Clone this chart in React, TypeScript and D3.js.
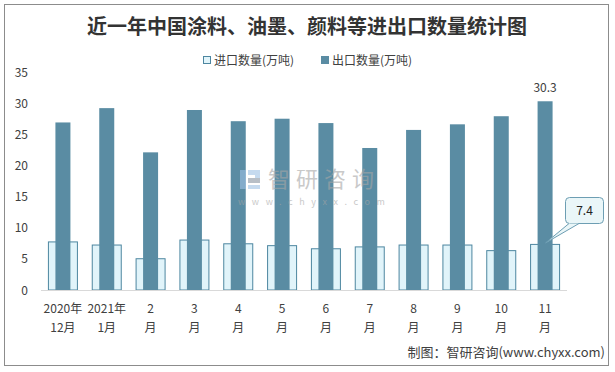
import React from 'react';
import * as d3 from 'd3';

const months = ['2020年12月', '2021年1月', '2月', '3月', '4月', '5月', '6月', '7月', '8月', '9月', '10月', '11月'];
const labelTop = ['2020年', '2021年', '2', '3', '4', '5', '6', '7', '8', '9', '10', '11'];
const labelBottom = ['12月', '1月', '月', '月', '月', '月', '月', '月', '月', '月', '月', '月'];
const importValues = [7.8, 7.3, 5.1, 8.1, 7.5, 7.2, 6.7, 7.0, 7.3, 7.3, 6.4, 7.4];
const exportValues = [26.9, 29.2, 22.1, 28.9, 27.1, 27.5, 26.8, 22.8, 25.7, 26.6, 27.9, 30.3];
const yTicks = [0, 5, 10, 15, 20, 25, 30, 35];

const W = 615;
const H = 372;
const FONT = '"Noto Sans CJK SC", "Noto Sans", sans-serif';

export default function App() {
  const x = d3.scaleBand<string>().domain(months).range([41, 567]).paddingInner(0).paddingOuter(0);
  const y = d3.scaleLinear().domain([0, 35]).range([290, 72]);
  const bw = x.bandwidth();
  const impW = 30;
  const expW = 15;

  const lastIdx = months.length - 1;
  const lastCx = (x(months[lastIdx]) || 0) + bw / 2;
  const lastImpTop = y(importValues[lastIdx]);

  return (
    <div style={{ position: 'fixed', left: 0, top: 0 }}>
      <svg width={W} height={H} style={{ display: 'block', background: '#fff' }}>
        <rect x={4.5} y={4.5} width={604} height={361} fill="#fff" stroke="#8c8c8c" strokeWidth={1} />

        <text x={307} y={34} textAnchor="middle" fontFamily={FONT} fontSize={20} fontWeight={700} fill="#333">
          近一年中国涂料、油墨、颜料等进出口数量统计图
        </text>

        {/* legend */}
        <g fontFamily={FONT} fontSize={12} fill="#404040">
          <rect x={203.5} y={56.5} width={7} height={7} fill="#e1f4fa" stroke="#4d86a0" />
          <text x={214} y={64.5}>进口数量(万吨)</text>
          <rect x={321} y={56} width={8} height={8} fill="#5a8ca3" />
          <text x={332} y={64.5}>出口数量(万吨)</text>
        </g>

        {/* y tick labels */}
        <g fontFamily={FONT} fontSize={12} fill="#404040" textAnchor="end">
          {yTicks.map(t => (
            <text key={t} x={28} y={y(t) + 4.5}>{t}</text>
          ))}
        </g>

        {/* bars */}
        {months.map((m, i) => {
          const cx = (x(m) || 0) + bw / 2;
          return (
            <g key={m}>
              <rect
                x={cx - impW / 2 + 0.5}
                y={y(importValues[i]) + 0.5}
                width={impW - 1}
                height={y(0) - y(importValues[i]) - 0.5}
                fill="#e1f4fa"
                stroke="#4d86a0"
                strokeWidth={1}
              />
              <rect
                x={cx - expW / 2}
                y={y(exportValues[i])}
                width={expW}
                height={y(0) - y(exportValues[i])}
                fill="#5a8ca3"
              />
            </g>
          );
        })}

        {/* watermark, drawn over the bars */}
        <g opacity={0.6}>
          <rect x={240} y={170} width={6} height={19} fill="#9fc2e6" />
          <rect x={248} y={170} width={12} height={5} fill="#9fc2e6" />
          <rect x={255} y={170} width={5} height={10} fill="#9fc2e6" />
          <rect x={248} y={178} width={12} height={5} fill="#8a96a3" />
          <rect x={248} y={185} width={12} height={4} fill="#9fc2e6" />
          <text x={268} y={187} fontFamily={FONT} fontSize={22} fill="#a6a6a6" letterSpacing={6}>智研咨询</text>
          <text x={238} y={205} fontFamily={FONT} fontSize={9} fill="#a6a6a6" letterSpacing={6.6}>www.chyxx.com</text>
        </g>

        {/* x axis */}
        <line x1={41} x2={567} y1={290.5} y2={290.5} stroke="#d9d9d9" strokeWidth={1} />
        <g fontFamily={FONT} fontSize={12} fill="#404040" textAnchor="middle">
          {months.map((m, i) => {
            const cx = (x(m) || 0) + bw / 2;
            return (
              <g key={m}>
                <text x={cx} y={313}>{labelTop[i]}</text>
                <text x={cx} y={332}>{labelBottom[i]}</text>
              </g>
            );
          })}
        </g>

        {/* data labels */}
        <text x={lastCx} y={y(exportValues[lastIdx]) - 9} textAnchor="middle" fontFamily={FONT} fontSize={12} fill="#404040">
          {exportValues[lastIdx]}
        </text>
        <rect x={565.5} y={197.5} width={38} height={26} rx={4} fill="#eaf6f8" stroke="#6d9eb3" />
        <path d={`M568.5,223.5 L579,223.5 L${lastCx + 0.5},${lastImpTop - 1} Z`} fill="#eaf6f8" stroke="none" />
        <line x1={579} y1={223.5} x2={lastCx + 0.5} y2={lastImpTop - 1} stroke="#6d9eb3" />
        <line x1={569} y1={223.5} x2={lastCx + 0.5} y2={lastImpTop - 1} stroke="#6d9eb3" />
        <text x={584.5} y={214.5} textAnchor="middle" fontFamily={FONT} fontSize={12} fill="#222">
          {importValues[lastIdx]}
        </text>

        <text x={605} y={357} textAnchor="end" fontFamily={FONT} fontSize={13} fill="#404040">
          制图：智研咨询(www.chyxx.com)
        </text>
      </svg>
    </div>
  );
}
